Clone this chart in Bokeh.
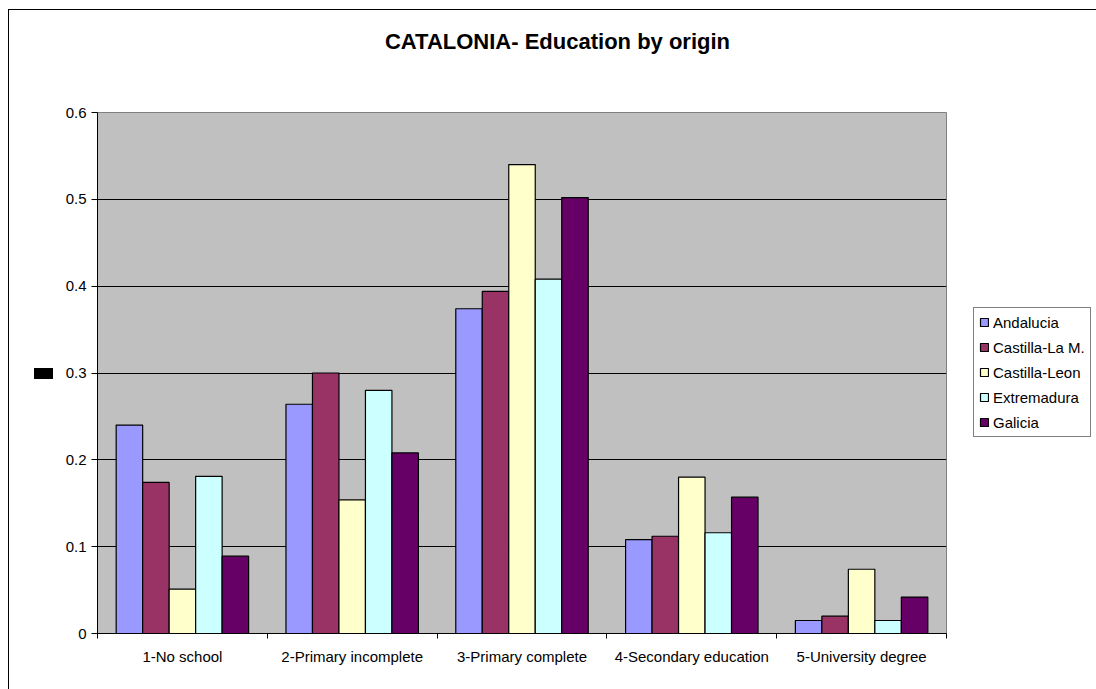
import numpy as np
from bokeh.plotting import figure
from bokeh.layouts import row, column
from bokeh.models import (ColumnDataSource, Range1d, FixedTicker, Legend, LegendItem,
                          LinearAxis, Grid, NumeralTickFormatter, Label, InlineStyleSheet)
from bokeh.embed import file_html
from bokeh.resources import INLINE

# Education level shares by region of origin
levels = ["1-No school", "2-Primary incomplete", "3-Primary complete",
          "4-Secondary education", "5-University degree"]
regions = ["Andalucia", "Castilla-La M.", "Castilla-Leon", "Extremadura", "Galicia"]
andalucia = [0.240, 0.264, 0.374, 0.108, 0.015]
castilla_lam = [0.174, 0.300, 0.394, 0.112, 0.020]
castilla_leon = [0.051, 0.154, 0.540, 0.180, 0.074]
extremadura = [0.181, 0.280, 0.408, 0.116, 0.015]
galicia = [0.089, 0.208, 0.502, 0.157, 0.042]
series = [andalucia, castilla_lam, castilla_leon, extremadura, galicia]
colors = ["#9999FF", "#993366", "#FFFFCC", "#CCFFFF", "#660066"]
y_ticks = [0, 0.1, 0.2, 0.3, 0.4, 0.5, 0.6]

FONT = "Liberation Sans"
TITLE_H = 85
BODY_H = 689 - TITLE_H

# title strip across the top
pt = figure(width=1096, height=TITLE_H, output_backend="svg", toolbar_location=None,
            x_axis_type=None, y_axis_type=None, min_border=0,
            outline_line_color=None, background_fill_color="white", border_fill_color="white")
pt.add_layout(Label(x=557, y=TITLE_H / 2 + 1.5, x_units="screen", y_units="screen",
                    text="CATALONIA- Education by origin", text_align="center",
                    text_baseline="middle", text_font=FONT, text_font_size="22px",
                    text_font_style="bold", text_color="black"))

# main bar chart
p = figure(width=950, height=BODY_H, x_range=Range1d(0, len(levels)), y_range=Range1d(0, 0.6),
           output_backend="svg", toolbar_location=None,
           x_axis_type=None, y_axis_type=None,
           min_border_left=97, min_border_right=4, min_border_top=112 - TITLE_H,
           min_border_bottom=56,
           background_fill_color="#C0C0C0", border_fill_color="white",
           outline_line_color="#808080", outline_line_width=1)

# y axis and horizontal gridlines
yaxis = LinearAxis(ticker=FixedTicker(ticks=y_ticks, minor_ticks=[]),
                   formatter=NumeralTickFormatter(format="0.[0]"),
                   axis_line_color="black", major_tick_line_color="black",
                   major_tick_out=6, major_tick_in=0, minor_tick_out=0, minor_tick_in=0,
                   major_label_standoff=5,
                   major_label_text_font=FONT, major_label_text_font_size="15px",
                   major_label_text_color="black")
p.add_layout(yaxis, "left")
p.add_layout(Grid(dimension=1, ticker=yaxis.ticker, grid_line_color="black", grid_line_width=1))

# x axis: labels at group centres, tick marks at group boundaries
centers = np.arange(len(levels)) + 0.5
xaxis = LinearAxis(ticker=FixedTicker(ticks=list(centers),
                                      minor_ticks=list(range(len(levels) + 1))),
                   major_label_overrides={float(c): lab for c, lab in zip(centers, levels)},
                   axis_line_color="black",
                   major_tick_out=0, major_tick_in=0,
                   minor_tick_out=5, minor_tick_in=0, minor_tick_line_color="black",
                   major_label_standoff=9,
                   major_label_text_font=FONT, major_label_text_font_size="15px",
                   major_label_text_color="black")
p.add_layout(xaxis, "below")

# legend strip to the right of the plot area
pl = figure(width=146, height=BODY_H, output_backend="svg", toolbar_location=None,
            x_axis_type=None, y_axis_type=None, min_border=0,
            x_range=Range1d(0, 1), y_range=Range1d(0, 1),
            outline_line_color=None, background_fill_color="white",
            border_fill_color="white")

# clustered bars; the legend keys reuse each series' data but stay hidden
bar_w = 0.156
items = []
for i, (name, vals, col) in enumerate(zip(regions, series, colors)):
    offset = (i - 2) * bar_w
    src = ColumnDataSource(dict(x=centers + offset, top=vals))
    style = dict(fill_color=col, line_color="black", line_width=1.2)
    p.vbar(x="x", top="top", bottom=0, width=bar_w, source=src, **style)
    key = pl.vbar(x="x", top="top", bottom=0, width=bar_w, source=src, visible=False, **style)
    items.append(LegendItem(label=name, renderers=[key]))

legend = Legend(items=items, location=(23, 196), orientation="vertical",
                border_line_color="black", border_line_width=1,
                background_fill_color="white", background_fill_alpha=1,
                label_text_font=FONT, label_text_font_size="15px", label_text_color="black",
                glyph_width=10, glyph_height=10, label_height=18, label_standoff=4,
                spacing=7, padding=5, margin=0)
pl.add_layout(legend)

layout = column(pt, row(p, pl, spacing=0), spacing=0)

# outer chart frame and the small axis-title marker on the left
layout.stylesheets = [InlineStyleSheet(css="""
:host { position: relative; }
:host::after {
  content: ""; position: absolute; left: 8px; top: 9px; right: 0; bottom: 0;
  border-left: 1px solid black; border-top: 1px solid black;
  pointer-events: none; z-index: 10;
}
:host::before {
  content: ""; position: absolute; left: 34px; top: 368px; width: 19px; height: 11px;
  background: black; z-index: 10;
}
""")]

open("out.html", "w").write(file_html(layout, INLINE))
